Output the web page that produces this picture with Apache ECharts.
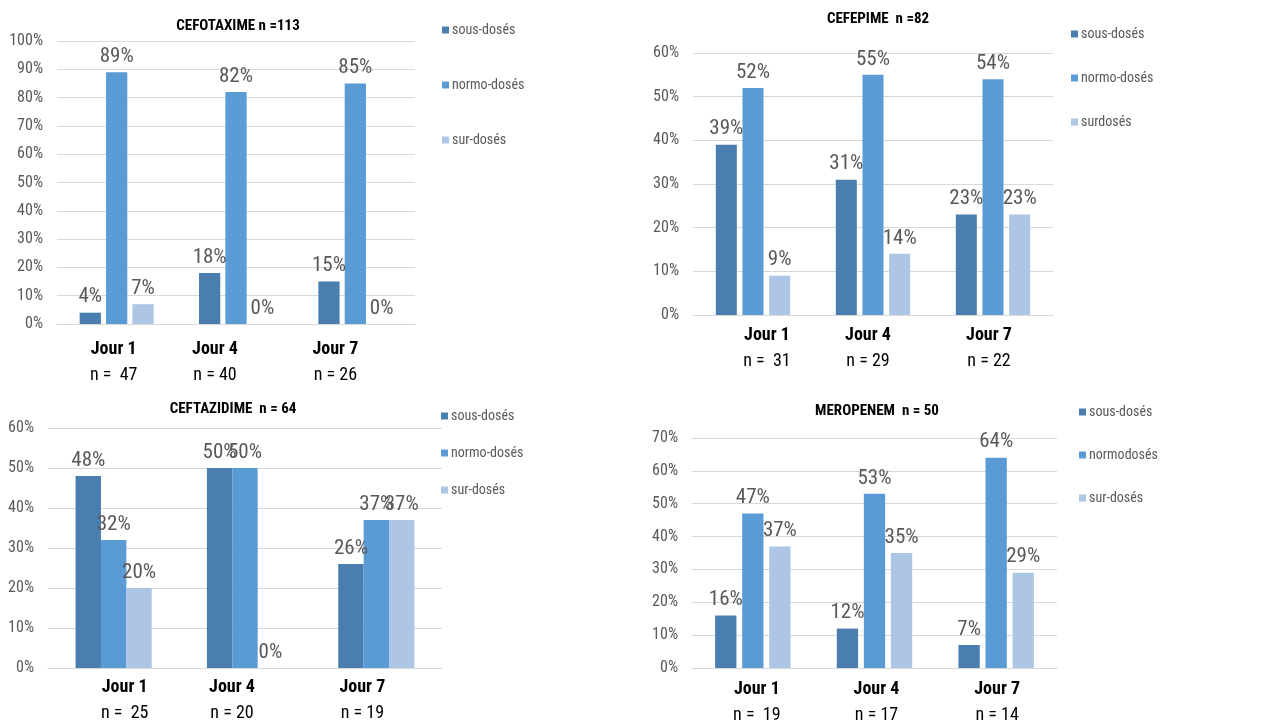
<!DOCTYPE html>
<html><head><meta charset="utf-8">
<script src="https://cdn.jsdelivr.net/npm/echarts@6/dist/echarts.min.js"></script>
<style>html,body{margin:0;padding:0;background:#fff}#c{width:1287px;height:725px}</style>
</head><body><div id="c"></div>
<script>
var categories = ['Jour 1', 'Jour 4', 'Jour 7'];

var cefotaximeTitle = 'CEFOTAXIME n =113';
var cefotaximeN = ['n =  47', 'n = 40', 'n = 26'];
var cefotaximeNames = ['sous-dosés', 'normo-dosés', 'sur-dosés'];
var cefotaximeSous = [4, 18, 15];
var cefotaximeNormo = [89, 82, 85];
var cefotaximeSur = [7, 0, 0];

var cefepimeTitle = 'CEFEPIME  n =82';
var cefepimeN = ['n =  31', 'n = 29', 'n = 22'];
var cefepimeNames = ['sous-dosés', 'normo-dosés', 'surdosés'];
var cefepimeSous = [39, 31, 23];
var cefepimeNormo = [52, 55, 54];
var cefepimeSur = [9, 14, 23];

var ceftazidimeTitle = 'CEFTAZIDIME  n = 64';
var ceftazidimeN = ['n =  25', 'n = 20', 'n = 19'];
var ceftazidimeNames = ['sous-dosés', 'normo-dosés', 'sur-dosés'];
var ceftazidimeSous = [48, 50, 26];
var ceftazidimeNormo = [32, 50, 37];
var ceftazidimeSur = [20, 0, 37];

var meropenemTitle = 'MEROPENEM  n = 50';
var meropenemN = ['n =  19', 'n = 17', 'n = 14'];
var meropenemNames = ['sous-dosés', 'normodosés', 'sur-dosés'];
var meropenemSous = [16, 12, 7];
var meropenemNormo = [47, 53, 64];
var meropenemSur = [37, 35, 29];

var yMax = [100, 60, 60, 70];

var FONT = "'Roboto Condensed', 'Liberation Sans', sans-serif";
var colors = ['#4a7eaf', '#5b9bd5', '#adc6e6'];
var panels = [
  {title: cefotaximeTitle, n: cefotaximeN, names: cefotaximeNames, data: [cefotaximeSous, cefotaximeNormo, cefotaximeSur],
   grid: {left: 57, top: 41, width: 358, height: 283}, tx: 233, ty: 14, lx: 437, ly: 18, lgap: 41, gap: '24%', cat: '38%', m: 12,
   shift: [-3, -21, -20]},
  {title: cefepimeTitle, n: cefepimeN, names: cefepimeNames, data: [cefepimeSous, cefepimeNormo, cefepimeSur],
   grid: {left: 693, top: 53, width: 360, height: 262}, tx: 873, ty: 7, lx: 1066, ly: 22, lgap: 30, gap: '27%', cat: '38%', m: 7,
   shift: [14, -5, -4]},
  {title: ceftazidimeTitle, n: ceftazidimeN, names: ceftazidimeNames, data: [ceftazidimeSous, ceftazidimeNormo, ceftazidimeSur],
   grid: {left: 48, top: 428, width: 394, height: 240}, tx: 228, ty: 397, lx: 436, ly: 404, lgap: 23, gap: '0%', cat: '42%', m: 6,
   shift: [11, -13, -14]},
  {title: meropenemTitle, n: meropenemN, names: meropenemNames, data: [meropenemSous, meropenemNormo, meropenemSur],
   grid: {left: 692, top: 438, width: 365, height: 230}, tx: 872, ty: 399, lx: 1074, ly: 400, lgap: 29, gap: '27%', cat: '38%', m: 8,
   shift: [4, 2, 1]}
];

function pad(d) { return d >= 0 ? [0, 0, 0, 2 * d] : [0, -2 * d, 0, 0]; }

var option = {animation: false, title: [], legend: [], grid: [], xAxis: [], yAxis: [], series: []};
panels.forEach(function (p, i) {
  option.title.push({text: p.title, left: p.tx, top: p.ty, textAlign: 'center',
    textStyle: {fontFamily: FONT, fontSize: 15, fontWeight: 'bold', color: '#000'}});
  option.legend.push({orient: 'vertical', left: p.lx, top: p.ly, itemWidth: 7, itemHeight: 7, itemGap: p.lgap,
    icon: 'rect', data: p.names, selectedMode: false,
    textStyle: {fontFamily: FONT, fontSize: 14, color: '#595959', padding: [0, 0, 0, -2]}});
  option.grid.push(Object.assign({containLabel: false}, p.grid));
  var rich = {};
  p.shift.forEach(function (d, k) {
    rich['a' + k] = {fontFamily: FONT, fontSize: 18, fontWeight: 'bold', color: '#000', lineHeight: 26, padding: pad(d)};
    rich['b' + k] = {fontFamily: FONT, fontSize: 18, color: '#000', lineHeight: 26, padding: pad(d)};
  });
  option.xAxis.push({type: 'category', gridIndex: i, data: categories,
    axisLine: {show: true, lineStyle: {color: '#d9d9d9', width: 1}}, axisTick: {show: false},
    axisLabel: {margin: p.m, interval: 0, fontFamily: FONT,
      formatter: function (v, idx) { return '{a' + idx + '|' + v + '}\n{b' + idx + '|' + p.n[idx] + '}'; },
      rich: rich}});
  option.yAxis.push({type: 'value', gridIndex: i, min: 0, max: yMax[i], interval: 10,
    axisLine: {show: false}, axisTick: {show: false},
    splitLine: {lineStyle: {color: '#d9d9d9', width: 1}},
    axisLabel: {margin: 14, formatter: '{value}%', fontFamily: FONT, fontSize: 16, color: '#595959'}});
  for (var s = 0; s < 3; s++) {
    option.series.push({type: 'bar', name: p.names[s], xAxisIndex: i, yAxisIndex: i, data: p.data[s],
      barGap: p.gap, barCategoryGap: p.cat, itemStyle: {color: colors[s]},
      label: {show: true, position: 'top', distance: 5, formatter: '{c}%', fontFamily: FONT, fontSize: 21, color: '#595959'}});
  }
});
var chart = echarts.init(document.getElementById('c'), null, {renderer: 'canvas'});
chart.setOption(option);
</script></body></html>
